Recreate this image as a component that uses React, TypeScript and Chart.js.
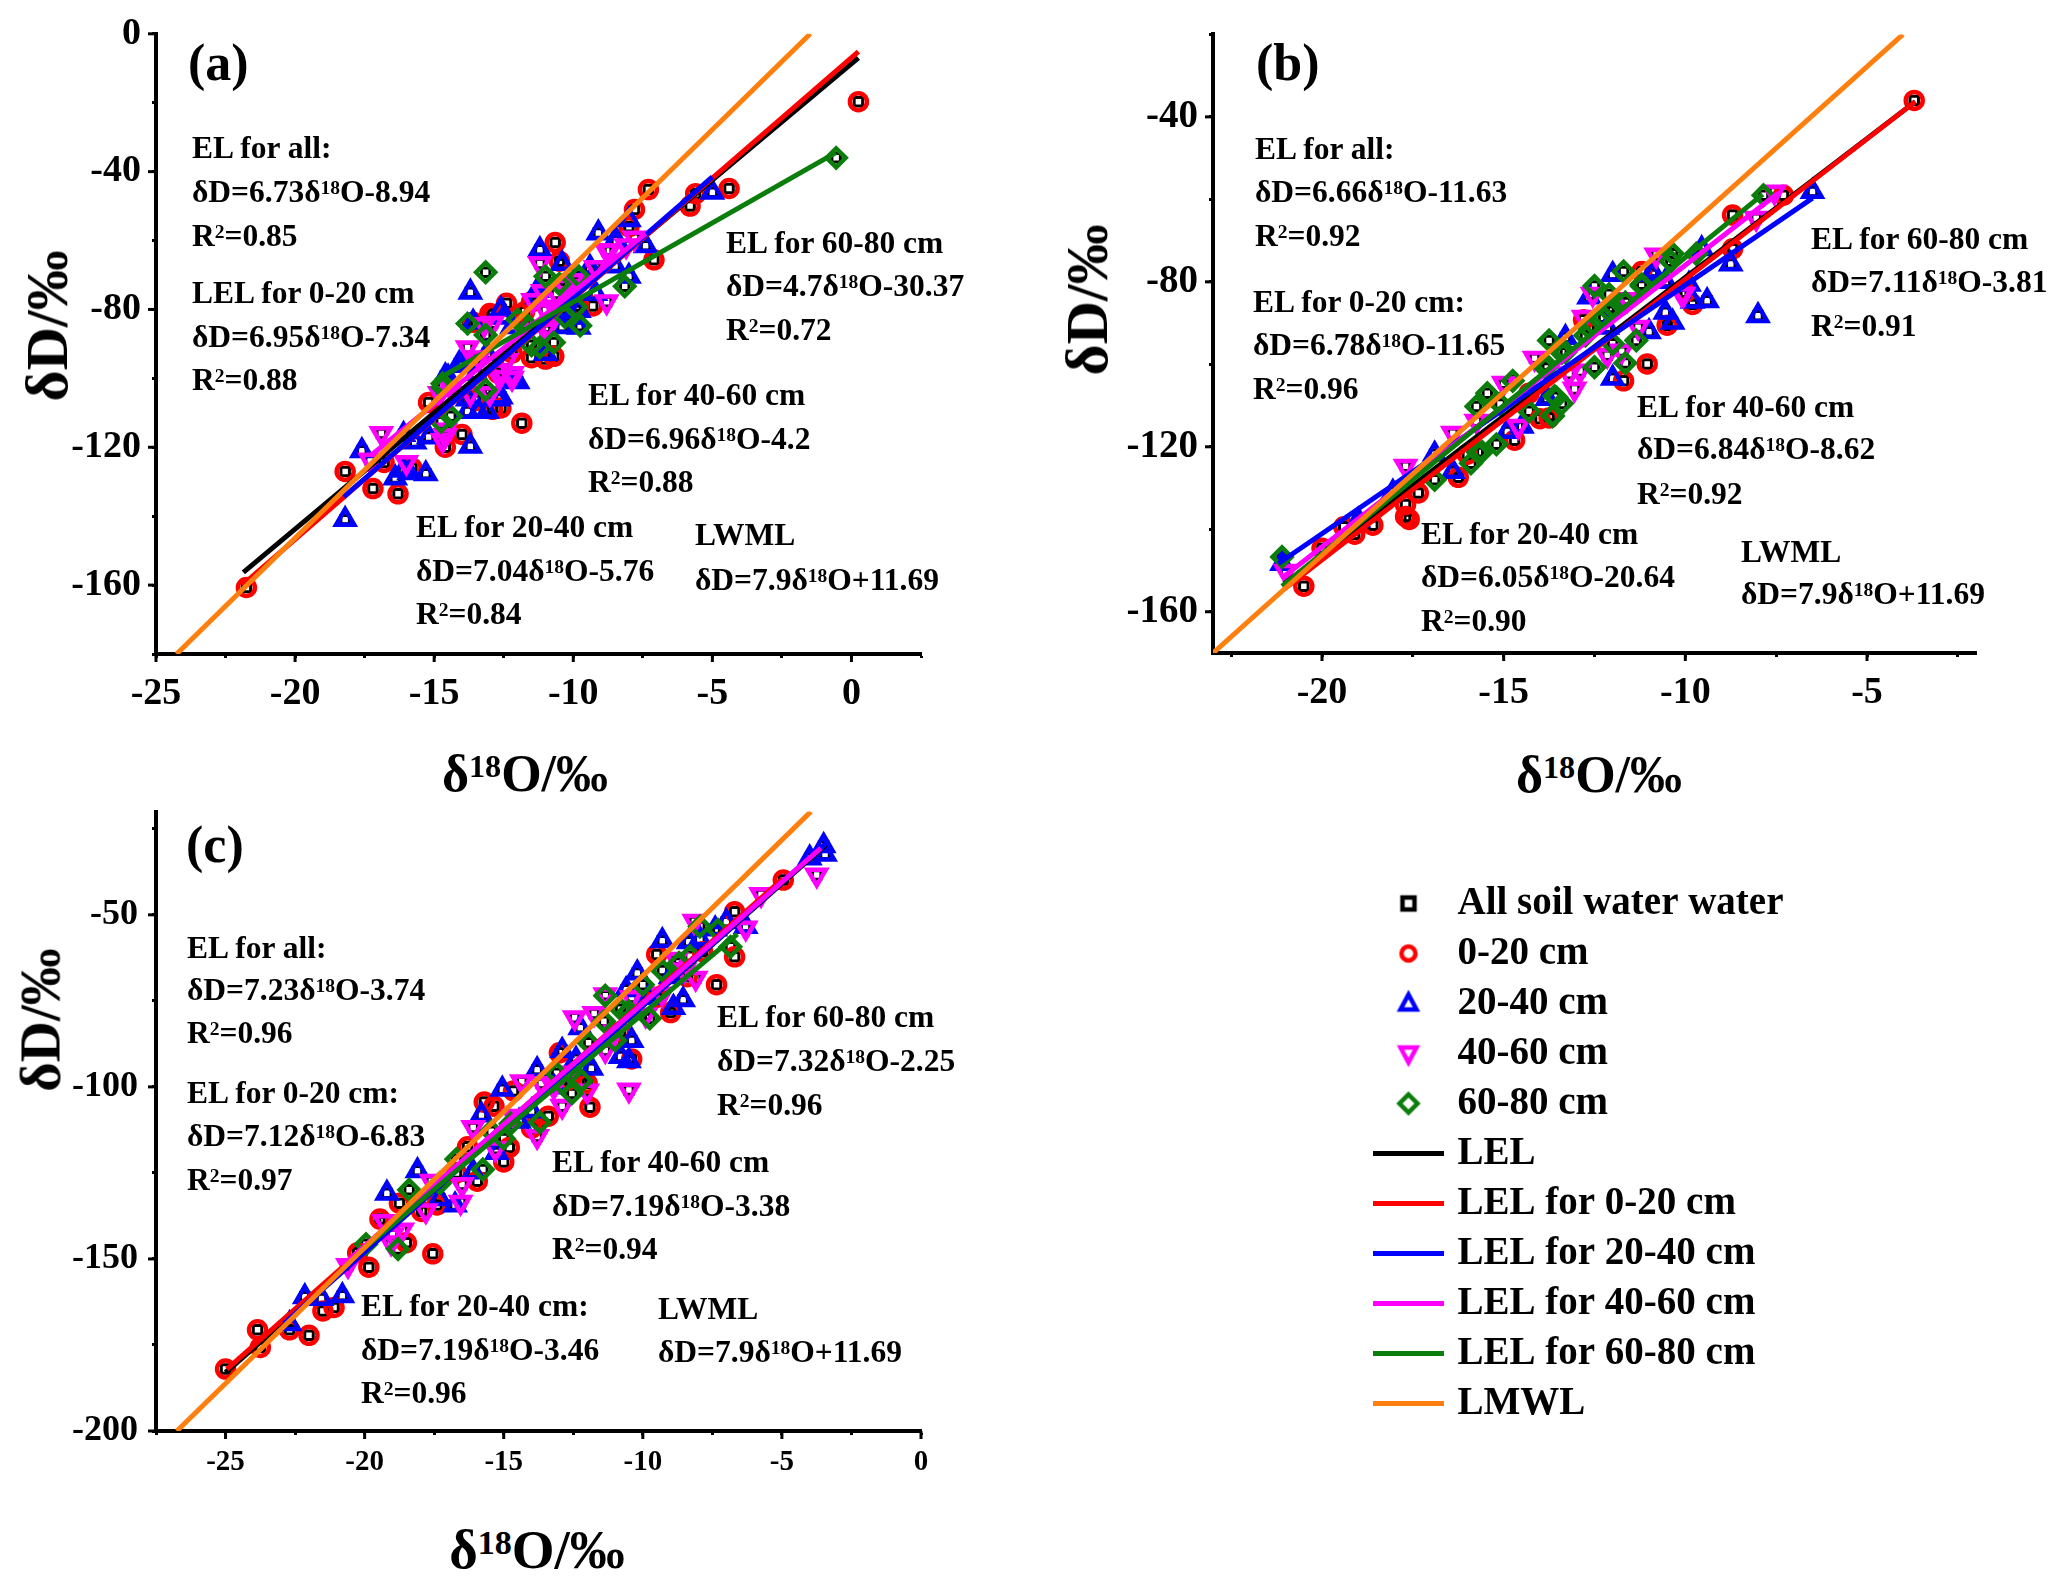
import React, { useEffect, useRef } from "react";
import { Chart, registerables } from "chart.js";

Chart.register(...registerables);

type Pt = [number, number];

// ---------- Panel (a) values: [δ18O, δD] ----------
const aDepth0020: Pt[] = [[0.25,-19.7],[-21.75,-160.7],[-4.4,-44.9],[-5.8,-50],[-7.3,-45.2],[-7.8,-51],[-7.1,-65.6],[-10.65,-60.6],[-10.5,-66],[-11.85,-113],[-18.2,-127],[-17.2,-132],[-16.3,-133.5],[-14.6,-120],[-14,-116.3],[-15.2,-107],[-16.8,-124.4],[-15.8,-126],[-12.6,-108.6],[-12.9,-109],[-12.4,-78.2],[-12.9,-81.5],[-13.6,-83.7],[-11,-94.4],[-10.7,-93.6],[-11.5,-94],[-11.5,-77.8],[-9.3,-79],[-9.8,-79],[-12.2,-92.6],[-12.7,-98.5],[-11.75,-80.7],[-5.6,-46.4],[-8,-56],[-13,-81.2],[-13.5,-106.4]];
const aDepth2040: Pt[] = [[-18.2,-141],[-17.6,-121],[-15.3,-127.7],[-13.7,-119.7],[-16.4,-128.9],[-16.1,-126.7],[-15.9,-127.4],[-15.2,-117],[-15.7,-118.5],[-16.1,-116.3],[-13.7,-75],[-11.2,-62.7],[-9.1,-57.8],[-8,-54],[-8.5,-60],[-7.4,-61.5],[-5,-46],[-10.4,-66.7],[-8,-70.4],[-8.5,-67.4],[-9.8,-85.2],[-10.3,-80.7],[-12.2,-100.7],[-12.7,-106],[-13.8,-109.6],[-13.4,-109.6],[-13.1,-109.6],[-14.6,-99.3],[-14,-96.3],[-13.6,-83.7],[-12.6,-80],[-11.3,-76.3],[-13.8,-106],[-11.3,-74.5],[-9.4,-67.8],[-8.45,-60],[-9.8,-80.3],[-10.1,-82.3],[-10.4,-85],[-9.2,-75.4],[-11,-92.8],[-12,-101],[-12.6,-105.4],[-14.5,-99.7],[-14.1,-95.7],[-13.1,-92.8],[-13.5,-98.6],[-12.2,-85],[-12.5,-82.3]];
const aDepth4060: Pt[] = [[-16.9,-116],[-17.3,-123.7],[-16,-124.4],[-14.6,-116.6],[-13.8,-91.1],[-13.2,-84.4],[-12.2,-100],[-12.6,-97.8],[-13,-104.4],[-13.4,-94],[-8.8,-63],[-7.8,-59.3],[-8.1,-61.5],[-8.8,-77.8],[-11.1,-74.8],[-11.2,-66.7],[-10.7,-79.3],[-10.3,-73.3],[-14.4,-103],[-14.8,-104.4],[-10.9,-85.2],[-12.9,-84],[-8.7,-62.9],[-12.2,-98.6],[-12.65,-99.7],[-13.7,-104.4],[-14.6,-115],[-14.7,-118],[-11.45,-77.4],[-11,-80.3],[-10.6,-75.4],[-10,-71.6],[-11.8,-86],[-11,-86],[-12.4,-94.8],[-9.2,-67.8]];
const aDepth6080: Pt[] = [[-0.55,-36],[-13.15,-69.2],[-13.8,-84.1],[-13.15,-87.4],[-14.7,-101.5],[-13.15,-103.3],[-14.4,-111],[-14.75,-112.6],[-11,-70.4],[-9.8,-70.4],[-10.5,-72.6],[-8.15,-73.3],[-9.75,-84.7],[-9.9,-79.3],[-10.7,-89.6],[-11.2,-91],[-11.5,-90.4],[-11.75,-83.7],[-12,-83],[-10.3,-82.2],[-14.7,-102.6]];
const aLineAll: Pt[] = [[-21.86,-156.3],[0.25,-7]];
const aLine0020: Pt[] = [[-21.9,-160],[0.25,-5.2]];
const aLine2040: Pt[] = [[-18.25,-134.4],[-5,-41.5]];
const aLine4060: Pt[] = [[-17.3,-122.5],[-7.4,-58]];
const aLine6080: Pt[] = [[-14.95,-100.6],[-0.56,-34.5]];
const aLineMeteoric: Pt[] = [[-24.26,-180],[-1.48,0]];

// ---------- Panel (b) ----------
const bDepth0020: Pt[] = [[-3.7,-36],[-20.5,-153.8],[-20,-144.6],[-19.4,-139.4],[-19.1,-141.2],[-18.6,-139],[-17.7,-134],[-17.7,-136.9],[-17.6,-137.6],[-17.35,-131.2],[-16.25,-127.4],[-14.7,-118.4],[-14,-113.2],[-13.75,-113],[-11.7,-104],[-11.05,-99.9],[-8.7,-63.8],[-7.3,-59],[-9.8,-85.5],[-8.7,-72],[-12.8,-89.2],[-11.2,-77.5],[-10,-82.5],[-10.5,-90.5],[-14.3,-107],[-16,-121.8]];
const bDepth2040: Pt[] = [[-21.1,-148.3],[-19,-137.8],[-18.05,-131],[-16.9,-121.8],[-16.4,-126],[-14.9,-116.3],[-14.5,-115],[-13.8,-108.3],[-12,-103.4],[-13.3,-93.5],[-12,-78.2],[-10.9,-77.5],[-6.5,-58.1],[-8.75,-75.7],[-8,-88.2],[-9.4,-84.6],[-10.35,-89.8],[-11,-92.1],[-10.55,-87.4],[-9.55,-72],[-12.65,-83.7],[-12.15,-91],[-9.8,-84.7],[-10.9,-78.2],[-10.55,-79.9],[-9.9,-80.6]];
const bDepth4060: Pt[] = [[-21,-150.2],[-17.7,-124.7],[-16.4,-116.7],[-15,-104.6],[-14.6,-115],[-14.15,-98.5],[-13.05,-106],[-12.15,-97.8],[-12.8,-88.6],[-12.55,-83],[-11.6,-84.3],[-10.8,-73.5],[-7.55,-58.2],[-8.05,-64.6],[-10.05,-83],[-15.75,-113.8],[-11.3,-91],[-10.1,-83],[-11.75,-96.8],[-13.2,-102.3],[-12.9,-101.6]];
const bDepth6080: Pt[] = [[-21.1,-146.7],[-16.9,-128],[-15.9,-124],[-15.6,-121.2],[-15.2,-119.4],[-15.75,-110.2],[-15.45,-107],[-14.75,-104],[-14.3,-111.4],[-13.65,-112.6],[-13.4,-109.5],[-13.6,-107.7],[-13.75,-94.2],[-13.8,-100.3],[-13.3,-97],[-12.5,-81],[-12.5,-100.7],[-11.65,-99.7],[-12,-95],[-11.35,-94.2],[-11.7,-77.5],[-11.2,-81],[-10.4,-75],[-10.35,-73.2],[-7.85,-59],[-9.7,-73.2],[-12.75,-93],[-12.25,-88.6],[-12,-86.2],[-11.65,-85],[-12.1,-87.1],[-12.65,-91.2],[-13.4,-97.2],[-13.85,-100.9],[-15.1,-109.6],[-12.1,-83],[-11.2,-80.6],[-13.55,-108],[-13.65,-112.4],[-15.7,-121.4]];
const bLineAll: Pt[] = [[-21.04,-153.2],[-3.67,-36.3]];
const bLine0020: Pt[] = [[-21.04,-154.5],[-3.67,-36.3]];
const bLine2040: Pt[] = [[-21.2,-148.3],[-6.5,-59.7]];
const bLine4060: Pt[] = [[-21.04,-151.4],[-7.45,-58.5]];
const bLine6080: Pt[] = [[-21.1,-153.8],[-7.87,-58.8]];
const bLineMeteoric: Pt[] = [[-23,-170],[-4.01,-20]];

// ---------- Panel (c) ----------
const cDepth0020: Pt[] = [[-25,-182],[-23.85,-170.6],[-23.75,-175.7],[-22.7,-170.6],[-22,-172.2],[-21.5,-165.1],[-21.1,-164.1],[-19.85,-152.4],[-20.25,-148.2],[-17.55,-148.5],[-18.5,-145.3],[-17.95,-136.2],[-17.4,-134.3],[-18.75,-133.8],[-19.45,-138.4],[-15.95,-127.4],[-15,-121.8],[-14.8,-117.6],[-16.3,-117.4],[-15.7,-104.4],[-15.35,-105.6],[-13.4,-108.5],[-11.9,-105.9],[-12,-99],[-10.4,-91.9],[-9.5,-61.5],[-9,-78.4],[-7.35,-70.3],[-6.7,-49.1],[-6.7,-62.2],[-4.95,-39.9],[-13,-90.1],[-14.65,-101.2],[-7.85,-60.7],[-16.7,-125],[-14,-112],[-12.7,-98],[-10.8,-84],[-9.5,-74],[-8.4,-68]];
const cDepth2040: Pt[] = [[-22.7,-168.8],[-22.15,-161],[-21.55,-161.5],[-20.8,-160.7],[-19.2,-130.9],[-18.1,-124.4],[-17.3,-132.5],[-16.75,-134.3],[-16.1,-124.7],[-15.25,-119.1],[-15.8,-108.2],[-15.05,-100.7],[-14.45,-110],[-13.8,-95],[-12.9,-89.4],[-11.85,-94.6],[-10.8,-91.2],[-10.5,-92.4],[-10.4,-86.5],[-12.25,-82.8],[-10.6,-71.8],[-10.2,-66.9],[-9.3,-57.5],[-8.55,-74.7],[-8.9,-76.9],[-8.35,-57.8],[-7.95,-57],[-7.4,-54.1],[-6.3,-53.4],[-4,-33.5],[-3.45,-32.4],[-3.5,-29.9],[-14,-107],[-13.2,-100],[-12.4,-92],[-9.8,-74],[-9,-68],[-7,-52]];
const cDepth4060: Pt[] = [[-20.6,-151.9],[-19.3,-139.1],[-19.05,-145.3],[-18.65,-141.6],[-17.6,-127.4],[-16.5,-128.4],[-16.55,-133.5],[-16.1,-111.8],[-13.8,-114.4],[-14.35,-98.5],[-13.65,-99],[-12.9,-105.6],[-12.45,-79.9],[-11.75,-78.7],[-11.35,-73.2],[-12,-101.2],[-10.5,-100.9],[-10.4,-74],[-8.15,-51.9],[-8.8,-62.9],[-8.1,-68.4],[-6.3,-53.8],[-5.75,-44.1],[-3.75,-38.4],[-14.65,-108.5],[-11.35,-89.4],[-9.9,-79.1],[-13.2,-100],[-12.6,-96],[-11,-84],[-9.3,-73],[-8.5,-66],[-15.3,-118],[-17.8,-136],[-19,-143]];
const cDepth6080: Pt[] = [[-19.95,-145.7],[-18.8,-147.1],[-18.4,-129.9],[-16.7,-121],[-15.75,-124],[-13.7,-110.3],[-12.55,-101.9],[-12.2,-98.2],[-13.1,-96],[-11.95,-87.2],[-11.4,-80.9],[-11.35,-73.5],[-10.8,-77.4],[-9.75,-80.1],[-11,-86.5],[-10,-70.3],[-9.3,-66.2],[-7.95,-53.4],[-7.3,-54.4],[-6.85,-59.3],[-15.45,-112.9],[-14.75,-110.7],[-15,-115],[-12.9,-99],[-10.5,-78],[-8.7,-64],[-8.3,-62],[-17.3,-128]];
const cLineAll: Pt[] = [[-25,-183],[-3.4,-29.5]];
const cLine0020: Pt[] = [[-24.95,-182],[-4.95,-39.4]];
const cLine2040: Pt[] = [[-22.9,-168.8],[-3.4,-29.1]];
const cLine4060: Pt[] = [[-20.8,-151.9],[-3.6,-30.6]];
const cLine6080: Pt[] = [[-20.1,-147.5],[-6.6,-55.6]];
const cLineMeteoric: Pt[] = [[-26.75,-200],[-3.96,-20]];

// ---------- Text ----------
const markerNames = ["All soil water water", "0-20 cm", "20-40 cm", "40-60 cm", "60-80 cm"];
const lineNames = ["LEL", "LEL for 0-20 cm", "LEL for 20-40 cm", "LEL for 40-60 cm", "LEL for 60-80 cm", "LMWL"];
const aNotes = [
  ["EL for all:", "δD=6.73δ18O-8.94", "R2=0.85"],
  ["LEL for 0-20 cm", "δD=6.95δ18O-7.34", "R2=0.88"],
  ["EL for 60-80 cm", "δD=4.7δ18O-30.37", "R2=0.72"],
  ["EL for 40-60 cm", "δD=6.96δ18O-4.2", "R2=0.88"],
  ["EL for 20-40 cm", "δD=7.04δ18O-5.76", "R2=0.84"],
  ["LWML", "δD=7.9δ18O+11.69"],
];
const bNotes = [
  ["EL for all:", "δD=6.66δ18O-11.63", "R2=0.92"],
  ["EL for 0-20 cm:", "δD=6.78δ18O-11.65", "R2=0.96"],
  ["EL for 60-80 cm", "δD=7.11δ18O-3.81", "R2=0.91"],
  ["EL for 40-60 cm", "δD=6.84δ18O-8.62", "R2=0.92"],
  ["EL for 20-40 cm", "δD=6.05δ18O-20.64", "R2=0.90"],
  ["LWML", "δD=7.9δ18O+11.69"],
];
const cNotes = [
  ["EL for all:", "δD=7.23δ18O-3.74", "R2=0.96"],
  ["EL for 0-20 cm:", "δD=7.12δ18O-6.83", "R2=0.97"],
  ["EL for 60-80 cm", "δD=7.32δ18O-2.25", "R2=0.96"],
  ["EL for 40-60 cm", "δD=7.19δ18O-3.38", "R2=0.94"],
  ["EL for 20-40 cm:", "δD=7.19δ18O-3.46", "R2=0.96"],
  ["LWML", "δD=7.9δ18O+11.69"],
];

// ---------- Styling and layout ----------
const SERIF = '"Liberation Serif", "Times New Roman", serif';
const markerColors = ["#000000", "#ff0000", "#0000ff", "#ff00ff", "#0a7d0a"];
const lineColors = ["#000000", "#ff0000", "#0000ff", "#ff00ff", "#0a7d0a", "#ff7f0e"];

const panels = [
  {
    box: { left: 0, top: 0, width: 960, height: 740 }, area: { left: 156, right: 921, top: 33, bottom: 654 },
    x: { min: -25, max: 2.5, step: 2.5, major: 5 }, y: { min: -180, max: 0, step: 20, major: 40 },
    xFont: 38, yFont: 38, xGap: 13, yGap: 11,
    points: [aDepth0020, aDepth2040, aDepth4060, aDepth6080],
    lines: [aLineAll, aLine0020, aLine2040, aLine4060, aLine6080, aLineMeteoric],
  },
  {
    box: { left: 1000, top: 0, width: 1020, height: 740 }, area: { left: 1213, right: 1976, top: 33, bottom: 653 },
    x: { min: -23, max: -2, step: 2.5, major: 5 }, y: { min: -170, max: -20, step: 20, major: 40 },
    xFont: 38, yFont: 39, xGap: 13, yGap: 11,
    points: [bDepth0020, bDepth2040, bDepth4060, bDepth6080],
    lines: [bLineAll, bLine0020, bLine2040, bLine4060, bLine6080, bLineMeteoric],
  },
  {
    box: { left: 0, top: 776, width: 960, height: 720 }, area: { left: 156, right: 921, top: 809, bottom: 1431 },
    x: { min: -27.5, max: 0, step: 2.5, major: 5 }, y: { min: -200, max: -20, step: 25, major: 50 },
    xFont: 29, yFont: 36, xGap: 10, yGap: 14,
    points: [cDepth0020, cDepth2040, cDepth4060, cDepth6080],
    lines: [cLineAll, cLine0020, cLine2040, cLine4060, cLine6080, cLineMeteoric],
  },
];

const noteSpots = [
  [[192, [148, 192, 236]], [192, [293, 337, 380]], [726, [243, 286, 330]], [588, [395, 439, 482]], [416, [527, 571, 614]], [695, [535, 580]]],
  [[1255, [149, 192, 236]], [1253, [302, 345, 389]], [1811, [239, 282, 326]], [1637, [407, 449, 494]], [1421, [534, 577, 621]], [1741, [552, 594]]],
  [[187, [948, 990, 1033]], [187, [1093, 1136, 1180]], [717, [1017, 1061, 1105]], [552, [1162, 1206, 1249]], [361, [1306, 1350, 1393]], [658, [1309, 1352]]],
] as [number, number[]][][];
const panelLetters = [["(a)", 188, 63], ["(b)", 1256, 63], ["(c)", 186, 845]] as [string, number, number][];
const xTitles = [[525, 774, 52], [1599, 775, 52], [537, 1549, 55]];
const yTitles = [[47, 326, 60], [1087, 300, 60], [40, 1020, 57]];
const notesByPanel = [aNotes, bNotes, cNotes];

const scatterStyles: any[] = [
  { pointStyle: "circle", radius: 8.5, width: 4.5 },
  { pointStyle: "triangle", radius: 10.5, width: 4.5 },
  { pointStyle: "triangle", radius: 10.5, width: 4.5, rotation: 180 },
  { pointStyle: "rectRot", radius: 9.5, width: 4.5 },
];

const toXY = (pts: Pt[]) => pts.map(([x, y]) => ({ x, y }));

function axis(spec: any, font: number, gap: number, vertical: boolean, fitSize: number): any {
  return {
    type: "linear",
    min: spec.min,
    max: spec.max,
    afterFit: (s: any) => {
      if (vertical) s.width = fitSize;
      else s.height = fitSize;
    },
    border: { display: true, color: "#000", width: 4 },
    grid: { drawOnChartArea: false, drawTicks: true, tickLength: 4, tickWidth: 3, tickColor: "#000" },
    ticks: {
      stepSize: spec.step,
      includeBounds: false,
      autoSkip: false,
      maxRotation: 0,
      minRotation: 0,
      padding: gap,
      color: "#000",
      font: { family: SERIF, weight: "bold", size: font, lineHeight: 1.2 },
      callback: (v: number) => (Math.abs(v % spec.major) < 1e-6 ? String(v) : ""),
    },
  };
}

function majorTickPlugin(xSpec: any, ySpec: any) {
  return {
    id: "majorTicks",
    afterDraw(chart: any) {
      const { ctx, scales, chartArea } = chart;
      ctx.save();
      ctx.strokeStyle = "#000";
      ctx.lineWidth = 3;
      for (const t of scales.x.ticks) {
        if (Math.abs(t.value % xSpec.major) > 1e-6) continue;
        const px = scales.x.getPixelForValue(t.value);
        ctx.beginPath();
        ctx.moveTo(px, chartArea.bottom);
        ctx.lineTo(px, chartArea.bottom + 8);
        ctx.stroke();
      }
      for (const t of scales.y.ticks) {
        if (Math.abs(t.value % ySpec.major) > 1e-6) continue;
        const py = scales.y.getPixelForValue(t.value);
        ctx.beginPath();
        ctx.moveTo(chartArea.left, py);
        ctx.lineTo(chartArea.left - 8, py);
        ctx.stroke();
      }
      ctx.restore();
    },
  };
}

function buildPanel(canvas: HTMLCanvasElement, p: any) {
  const datasets: any[] = [];
  const all = ([] as Pt[]).concat(...p.points);
  datasets.push({
    label: markerNames[0], data: toXY(all), showLine: false, pointStyle: "rect", pointRadius: 6,
    pointBorderWidth: 3, pointBorderColor: markerColors[0], pointBackgroundColor: "rgba(0,0,0,0)",
  });
  p.points.forEach((pts: Pt[], i: number) => {
    const st = scatterStyles[i];
    datasets.push({
      label: markerNames[i + 1], data: toXY(pts), showLine: false, pointStyle: st.pointStyle, pointRadius: st.radius,
      pointRotation: st.rotation || 0, pointBorderWidth: st.width, pointBorderColor: markerColors[i + 1],
      pointBackgroundColor: "rgba(0,0,0,0)",
    });
  });
  p.lines.forEach((pts: Pt[], i: number) => {
    datasets.push({
      label: lineNames[i], data: toXY(pts), showLine: true, pointRadius: 0, borderColor: lineColors[i],
      borderWidth: 5, fill: false,
    });
  });
  datasets.forEach((d, i) => (d.order = -i));
  const fitY = p.area.left - p.box.left;
  const fitX = p.box.top + p.box.height - p.area.bottom;
  return new Chart(canvas, {
    type: "scatter",
    data: { datasets },
    options: {
      responsive: false,
      animation: false,
      events: [],
      layout: { padding: { left: 0, top: p.area.top - p.box.top, right: p.box.left + p.box.width - p.area.right, bottom: 0 } },
      plugins: { legend: { display: false }, tooltip: { enabled: false }, title: { display: false } },
      scales: { x: axis(p.x, p.xFont, p.xGap, false, fitX), y: axis(p.y, p.yFont, p.yGap, true, fitY) },
    } as any,
    plugins: [majorTickPlugin(p.x, p.y)],
  });
}

function swatch(kind: string, color: string) {
  const c = document.createElement("canvas");
  if (kind === "line") {
    c.width = 71;
    c.height = 5;
    const g = c.getContext("2d")!;
    g.fillStyle = color;
    g.fillRect(0, 0, 71, 5);
    return c;
  }
  c.width = 30;
  c.height = 30;
  const g = c.getContext("2d")!;
  g.strokeStyle = color;
  g.lineWidth = 4.5;
  g.beginPath();
  if (kind === "rect") g.rect(9, 9, 12, 12);
  if (kind === "circle") g.arc(15, 15, 7, 0, Math.PI * 2);
  if (kind === "up") { g.moveTo(15, 6); g.lineTo(23, 21); g.lineTo(7, 21); g.closePath(); }
  if (kind === "down") { g.moveTo(15, 24); g.lineTo(23, 9); g.lineTo(7, 9); g.closePath(); }
  if (kind === "diamond") { g.moveTo(15, 6); g.lineTo(24, 15); g.lineTo(15, 24); g.lineTo(6, 15); g.closePath(); }
  g.stroke();
  return c;
}

function buildLegend(canvas: HTMLCanvasElement) {
  const kinds = ["rect", "circle", "up", "down", "diamond"];
  const items = [
    ...markerNames.map((n, i) => ({ text: n, icon: swatch(kinds[i], markerColors[i]) })),
    ...lineNames.map((n, i) => ({ text: n, icon: swatch("line", lineColors[i]) })),
  ];
  return new Chart(canvas, {
    type: "scatter",
    data: { datasets: items.map((it) => ({ label: it.text, data: [] })) },
    options: {
      responsive: false,
      animation: false,
      events: [],
      layout: { padding: 0 },
      scales: { x: { display: false }, y: { display: false } },
      plugins: {
        tooltip: { enabled: false },
        legend: {
          display: true,
          position: "left",
          align: "start",
          labels: {
            usePointStyle: true,
            pointStyleWidth: 59,
            padding: 11,
            color: "#000",
            font: { family: SERIF, weight: "bold", size: 39, lineHeight: 1.2 },
            generateLabels: () =>
              items.map((it, i) => ({
                text: it.text, pointStyle: it.icon, fillStyle: "#000", strokeStyle: "#000", lineWidth: 0,
                hidden: false, datasetIndex: i,
              })),
          },
        },
      },
    } as any,
  });
}

function Rich({ text }: { text: string }) {
  const sup: React.CSSProperties = { fontSize: "0.62em", position: "relative", top: "-0.42em", lineHeight: 0, verticalAlign: "baseline" };
  const m = text.match(/^(.*δ)18(O.*)$/);
  if (m) return <>{m[1]}<span style={sup}>18</span>{m[2]}</>;
  const r = text.match(/^R2(=.*)$/);
  if (r) return <>R<span style={sup}>2</span>{r[1]}</>;
  return <>{text}</>;
}

export default function App() {
  const refs = [useRef<HTMLCanvasElement>(null), useRef<HTMLCanvasElement>(null), useRef<HTMLCanvasElement>(null)];
  const legendRef = useRef<HTMLCanvasElement>(null);

  useEffect(() => {
    const charts = panels.map((p, i) => buildPanel(refs[i].current!, p));
    charts.push(buildLegend(legendRef.current!));
    return () => charts.forEach((c) => c.destroy());
  }, []);

  const base: React.CSSProperties = { position: "absolute", fontFamily: SERIF, fontWeight: "bold", color: "#000", whiteSpace: "nowrap", lineHeight: 1 };

  return (
    <div style={{ position: "absolute", left: 0, top: 0, width: 2067, height: 1586, overflow: "hidden", background: "#fff" }}>
      {panels.map((p, i) => (
        <canvas key={i} ref={refs[i]} width={p.box.width} height={p.box.height}
          style={{ position: "absolute", left: p.box.left, top: p.box.top, width: p.box.width, height: p.box.height }} />
      ))}
      <canvas ref={legendRef} width={900} height={600} style={{ position: "absolute", left: 1368, top: 873, width: 900, height: 600 }} />
      {notesByPanel.map((notes, pi) =>
        notes.map((lines, ni) =>
          lines.map((line, li) => (
            <div key={`${pi}-${ni}-${li}`} style={{ ...base, fontSize: 31.5, left: noteSpots[pi][ni][0], top: noteSpots[pi][ni][1][li], transform: "translateY(-50%)" }}>
              <Rich text={line} />
            </div>
          ))
        )
      )}
      {panelLetters.map(([t, x, y]) => (
        <div key={t} style={{ ...base, fontSize: 52, left: x, top: y, transform: "translateY(-50%)" }}>{t}</div>
      ))}
      {xTitles.map(([x, y, s], i) => (
        <div key={i} style={{ ...base, fontSize: s, left: x, top: y, transform: "translate(-50%,-50%)" }}>
          <Rich text="δ18O/‰" />
        </div>
      ))}
      {yTitles.map(([x, y, s], i) => (
        <div key={i} style={{ ...base, fontSize: s, left: x, top: y, transform: "translate(-50%,-50%) rotate(-90deg)" }}>δD/‰</div>
      ))}
    </div>
  );
}
